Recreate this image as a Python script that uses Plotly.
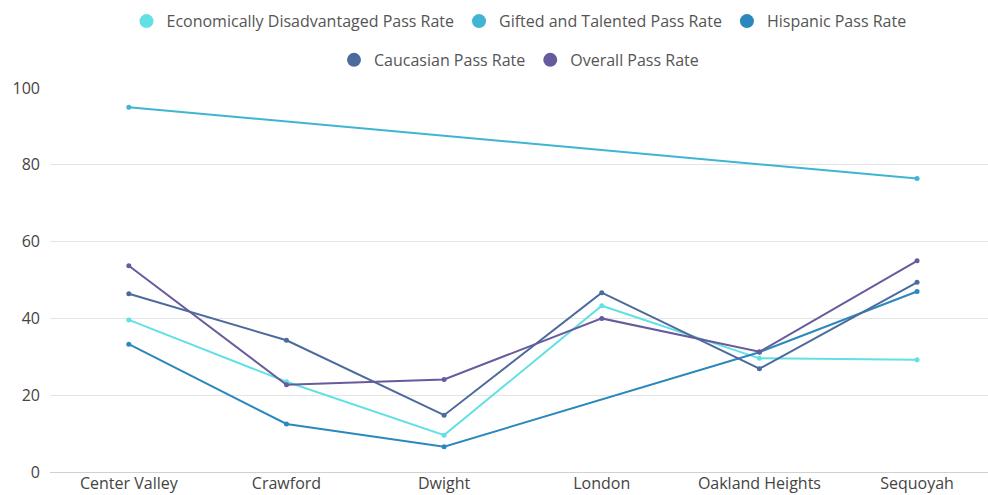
import plotly.graph_objects as go

schools = ["Center Valley", "Crawford", "Dwight", "London", "Oakland Heights", "Sequoyah"]

econ_disadv = [39.6, 23.5, 9.6, 43.3, 29.6, 29.2]
gifted = [95.0, None, None, None, None, 76.4]
hispanic = [33.3, 12.5, 6.6, None, 31.2, 47.0]
caucasian = [46.4, 34.3, 14.8, 46.7, 26.9, 49.4]
overall = [53.7, 22.7, 24.1, 40.0, 31.3, 55.0]

series = [
    ("Economically Disadvantaged Pass Rate", econ_disadv, "#62e0e4", "legend"),
    ("Gifted and Talented Pass Rate", gifted, "#3fb5d2", "legend"),
    ("Hispanic Pass Rate", hispanic, "#2b88bd", "legend"),
    ("Caucasian Pass Rate", caucasian, "#4c6b9c", "legend2"),
    ("Overall Pass Rate", overall, "#675a9d", "legend2"),
]

font_family = "Open Sans, Lato, sans-serif"

fig = go.Figure()
for name, vals, color, leg in series:
    fig.add_trace(go.Scatter(
        x=schools, y=vals, mode="lines+markers", name=name,
        line=dict(color=color, width=2), marker=dict(color=color, size=5),
        connectgaps=True, showlegend=False,
    ))
    # round legend swatch
    fig.add_trace(go.Scatter(
        x=[None], y=[None], mode="markers", name=name,
        marker=dict(color=color, size=14), legend=leg,
    ))

legend_style = dict(
    orientation="h", xanchor="center", x=0.5, yanchor="middle",
    font=dict(family=font_family, size=16, color="#555555"),
    bgcolor="rgba(0,0,0,0)", itemclick=False,
)

fig.update_layout(
    width=988, height=495,
    margin=dict(l=50, r=0, t=88, b=23),
    paper_bgcolor="white", plot_bgcolor="white",
    font=dict(family=font_family, color="#444444"),
    legend=dict(y=1.174, **legend_style),
    legend2=dict(y=1.073, **legend_style),
    xaxis=dict(
        type="category", range=[-0.5, 5.45], showgrid=False,
        showline=False, zeroline=False, ticks="", automargin=False,
        tickfont=dict(size=16, color="#444444"), ticklabelstandoff=0,
    ),
    yaxis=dict(
        range=[0, 100], tickvals=[0, 20, 40, 60, 80, 100],
        showgrid=True, gridcolor="#e4e4e4", gridwidth=1,
        zeroline=True, zerolinecolor="#d0d0d0", zerolinewidth=1,
        showline=False, ticks="", automargin=False,
        tickfont=dict(size=16, color="#444444"), ticklabelstandoff=9,
    ),
)

fig.write_html("out.html")
